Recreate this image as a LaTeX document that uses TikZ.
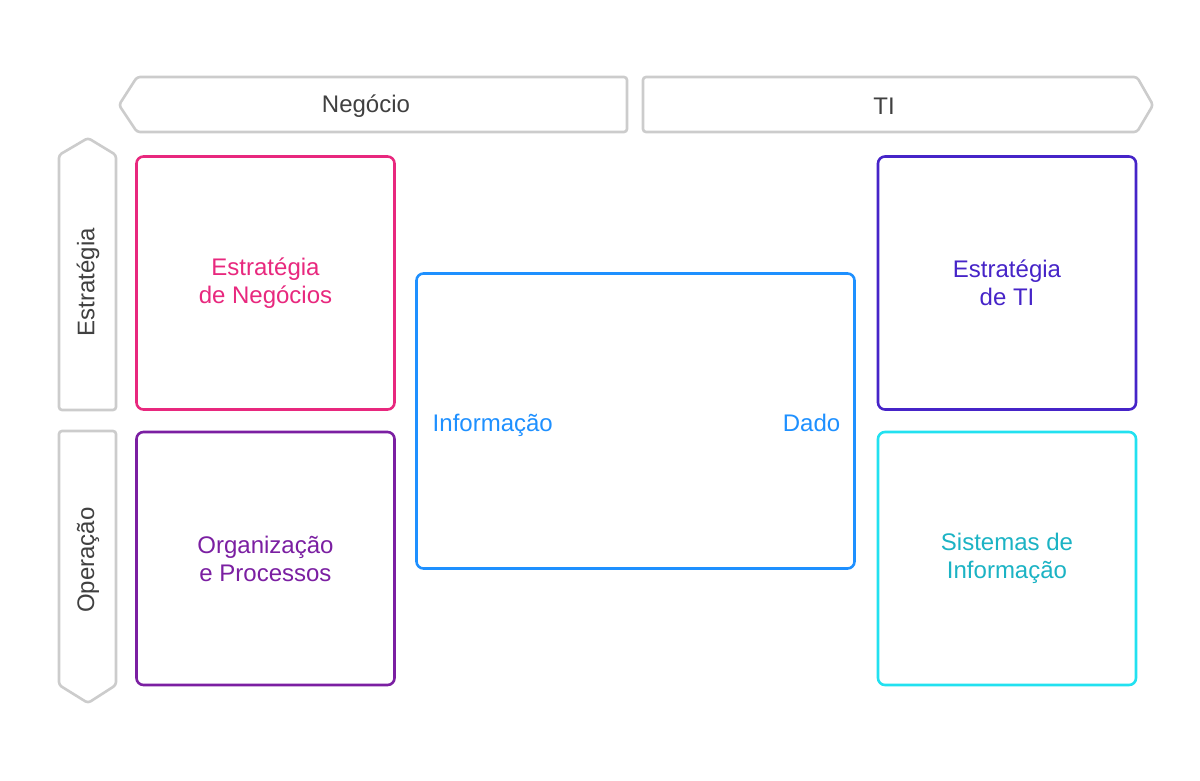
\documentclass[tikz,border=0pt]{standalone}
\usepackage{fontspec}
\setmainfont{Liberation Sans}
\usetikzlibrary{positioning}
\definecolor{cinza}{HTML}{CCCCCC}
\definecolor{texto}{HTML}{404040}
\definecolor{rosa}{HTML}{E8287E}
\definecolor{roxo}{HTML}{7B1FA2}
\definecolor{anil}{HTML}{4624C8}
\definecolor{azul}{HTML}{1E90FF}
\definecolor{ciano}{HTML}{22E1F0}
\definecolor{cianotxt}{HTML}{1BB3C4}
\begin{document}
\begin{tikzpicture}[x=1pt, y=-1pt, font=\fontsize{24}{28}\selectfont,
	seta/.style={draw=cinza, line width=2.6pt, fill=white, rounded corners=3pt},
	caixa/.style={draw=#1, line width=2.6pt, rounded corners=7pt, minimum width=258pt, minimum height=253pt, align=center, text=#1},
	rotulo/.style={text=texto}]
	\useasboundingbox[fill=white] (0,0) rectangle (1200,780);
	\draw[seta] (137,77) -- (627,77) -- (627,132) -- (137,132) -- (119,105) -- cycle;
	\draw[seta] (643,77) -- (1137,77) -- (1153,105) -- (1137,132) -- (643,132) -- cycle;
	\draw[seta] (59,155) -- (88,138) -- (116,155) -- (116,410) -- (59,410) -- cycle;
	\draw[seta] (59,431) -- (116,431) -- (116,685) -- (88,703) -- (59,685) -- cycle;
	\node[rotulo] (negocio) at (366,106) {Negócio};
	\node[rotulo] (ti) at (884,106) {TI};
	\node[rotulo, rotate=90] (estrategia) at (88,282) {Estratégia};
	\node[rotulo, rotate=90] (operacao) at (88,560) {Operação};
	\node[caixa=rosa] (estneg) at (265.5,283) {Estratégia\\de Negócios};
	\node[caixa=roxo] (orgproc) at (265.5,558.5) {Organização\\e Processos};
	\node[caixa=anil] (estti) at (1007,283) {Estratégia\\de TI};
	\node[caixa=ciano, text=cianotxt] (sistinf) at (1007,558.5) {Sistemas de\\Informação};
	\node[caixa=azul, minimum width=438pt, minimum height=295pt] (centro) at (635.5,421) {};
	\node[text=azul, anchor=base west] (informacao) at ([xshift=14pt, yshift=-10pt]centro.west) {Informação};
	\node[text=azul, anchor=base east] (dado) at ([xshift=-12pt, yshift=-10pt]centro.east) {Dado};
\end{tikzpicture}
\end{document}
